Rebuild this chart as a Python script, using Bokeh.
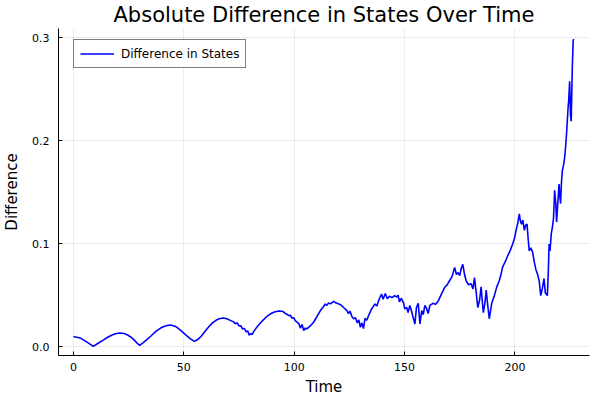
from bokeh.plotting import figure
from bokeh.models import Range1d, FixedTicker, PrintfTickFormatter, Legend, LegendItem
from bokeh.embed import file_html
from bokeh.resources import INLINE

# Time samples
time = [
    0, 3, 6, 9, 11, 13.5, 15.5, 17.3, 19, 21, 23, 24.8, 26.5, 27.8, 29, 30, 31.5, 33, 35, 37.5,
    39.5, 41.3, 43, 44.3, 46, 47.3, 49, 51, 53, 54.8, 56.3, 57.8, 59.5, 61.6, 63, 64.6, 66, 67.9, 69.5, 71.3,
    72.5, 73.2, 74.3, 75, 75.8, 76.6, 77.4, 78.2, 79, 79.6, 80.3, 81, 81.8, 83.5, 85.6, 87.5, 89.3, 91, 93.1, 95,
    95.8, 96.8, 97.6, 98.3, 99, 99.8,
    100.5, 101.4, 102.1, 102.8, 103.6, 104.3, 105.0, 105.4, 106.2, 107.5, 108.8, 110.3, 111.9, 113, 114.1,
    114.8, 115.6, 116.4, 117.9, 118.8, 120, 121.2, 122.4, 123.9, 124.6, 125.3, 126.2, 126.9, 127.8, 128.6,
    129.3, 130.0, 130.7, 131.4, 132.1, 132.9, 133.7, 135.1, 136.6, 137.5, 138.5, 139.6, 140.3, 141.3, 142.2,
    143.2, 144.3, 145.5, 146.5, 147.1, 147.7, 148.6, 149.6,
    150.1, 151, 151.6, 152.4, 153, 153.7, 154.7, 155.4, 156.2, 157, 157.8, 158.5, 159.2, 160, 160.7, 161.5,
    162.9, 164, 165.2, 166.5, 168.2, 169.3, 170.4, 171.5, 172.7, 173.5, 174.3, 175, 175.7, 176.4, 177.2, 177.9,
    179, 180.2, 181, 181.7, 182.5, 183.2, 184, 184.7, 185.2, 185.7, 186.4, 187, 187.7, 188.4, 189.5,
    190.7, 191.8, 192.9, 193.7, 194.4, 195.5, 196.7, 197.8, 199, 199.8, 200.5, 201.3, 202, 202.5, 203, 203.6,
    204.3, 204.9, 205.5, 206, 206.5, 207.2, 208, 208.8, 209.5, 210.3, 211, 211.7, 212.4, 213.2, 213.8, 214.3,
    214.7, 215.1, 215.5, 215.9, 216.5, 217, 217.5, 218, 218.5, 218.9, 219.3, 220, 220.4, 220.7, 221.1, 221.5,
    222.2, 222.6, 223, 223.4, 224, 224.4, 224.8, 225.2, 225.5, 226, 226.4, 226.6,
]

# Absolute difference values
difference = [
    0.0097, 0.0084, 0.0046, 0.0002, 0.0030, 0.0062, 0.0090, 0.0110, 0.0125, 0.0132, 0.0127, 0.0110, 0.0084,
    0.0058, 0.0030, 0.0012, 0.0035, 0.0062, 0.0100, 0.0150,
    0.0180, 0.0198, 0.0207, 0.0208, 0.0198, 0.0180, 0.0150, 0.0112, 0.0075, 0.0050, 0.0068, 0.0098, 0.0145,
    0.0200, 0.0230, 0.0255, 0.0270, 0.0277, 0.0270, 0.0252,
    0.0240, 0.0225, 0.0228, 0.0200, 0.0203, 0.0172, 0.0176, 0.0145, 0.0150, 0.0112, 0.0125, 0.0118, 0.0150,
    0.0200, 0.0250, 0.0290, 0.0318, 0.0335, 0.0345, 0.0340,
    0.0325, 0.0312, 0.0300, 0.0305, 0.0275, 0.0280,
    0.0252, 0.0236, 0.0223, 0.0180, 0.0216, 0.0155, 0.0180, 0.0170, 0.0180, 0.0205, 0.0236, 0.0290, 0.0350,
    0.0380, 0.0414,
    0.0400, 0.0425, 0.0415, 0.0440, 0.0425, 0.0415, 0.0405, 0.0380, 0.0350, 0.0320, 0.0345, 0.0290, 0.0270,
    0.0280, 0.0230,
    0.0260, 0.0188, 0.0230, 0.0175, 0.0275, 0.0255, 0.0300, 0.0366, 0.0414, 0.0395, 0.0460, 0.0510, 0.0460,
    0.0515, 0.0465,
    0.0490, 0.0475, 0.0495, 0.0480, 0.0500, 0.0435, 0.0470, 0.0420,
    0.0366, 0.0380, 0.0330, 0.0400, 0.0360, 0.0300, 0.0220, 0.0380, 0.0420, 0.0220, 0.0350, 0.0310, 0.0400,
    0.0370, 0.0320, 0.0400,
    0.0420, 0.0410, 0.0440, 0.0500, 0.0576, 0.0600, 0.0640, 0.0680, 0.0770, 0.0700, 0.0720, 0.0690, 0.0760,
    0.0800, 0.0700, 0.0640,
    0.0600, 0.0610, 0.0560, 0.0670, 0.0520, 0.0380, 0.0450, 0.0580, 0.0450, 0.0330, 0.0420, 0.0550, 0.0400,
    0.0270, 0.0420,
    0.0495, 0.0580, 0.0640, 0.0700, 0.0770, 0.0820, 0.0880, 0.0930, 0.0997, 0.1050, 0.1126, 0.1200, 0.1290,
    0.1220, 0.1190, 0.1230,
    0.1130, 0.1180, 0.1190, 0.1050, 0.0930, 0.0960, 0.0920, 0.0820, 0.0750, 0.0700, 0.0640, 0.0495, 0.0560,
    0.0660, 0.0520, 0.0510,
    0.0495, 0.0700, 0.0997, 0.0930, 0.1100, 0.1160, 0.1250, 0.1520, 0.1400, 0.1210, 0.1350, 0.1580, 0.1450,
    0.1390, 0.1600, 0.1710,
    0.1780, 0.1850, 0.1950, 0.2070, 0.2290, 0.2400, 0.2580, 0.2250, 0.2190, 0.2700, 0.2970, 0.2990,
]

n = min(len(time), len(difference))
time = time[:n]
difference = difference[:n]

x_ticks = [0, 50, 100, 150, 200]
y_ticks = [0.0, 0.1, 0.2, 0.3]

FONT = "DejaVu Sans"

p = figure(
    width=600, height=400,
    output_backend="svg", toolbar_location=None,
    x_range=Range1d(-6.76, 233.8), y_range=Range1d(-0.0087, 0.3092),
    min_border_left=55, min_border_right=11, min_border_top=28, min_border_bottom=45,
    title="Absolute Difference in States Over Time",
)

p.title.align = "center"
p.title.vertical_align = "top"
p.title.text_font = FONT
p.title.text_font_size = "21px"
p.title.text_font_style = "normal"
p.title.text_color = "black"
p.title.standoff = 0

p.outline_line_color = None
p.background_fill_color = "white"
p.border_fill_color = "white"

for ax in (p.xaxis[0], p.yaxis[0]):
    ax.axis_line_color = "black"
    ax.axis_line_width = 1
    ax.major_tick_in = 4
    ax.major_tick_out = 0
    ax.major_tick_line_color = "black"
    ax.minor_tick_line_color = None
    ax.major_label_text_font = FONT
    ax.major_label_text_font_size = "11px"
    ax.major_label_text_color = "black"
    ax.axis_label_text_font = FONT
    ax.axis_label_text_font_size = "15px"
    ax.axis_label_text_font_style = "normal"
    ax.axis_label_text_color = "black"

p.xaxis.major_label_standoff = 7
p.xaxis.axis_label_standoff = 4
p.yaxis.major_label_standoff = 9
p.yaxis.axis_label_standoff = 8

p.xaxis.ticker = FixedTicker(ticks=x_ticks)
p.yaxis.ticker = FixedTicker(ticks=y_ticks)
p.yaxis.formatter = PrintfTickFormatter(format="%.1f")
p.xaxis.axis_label = "Time"
p.yaxis.axis_label = "Difference"

p.grid.grid_line_color = "black"
p.grid.grid_line_alpha = 0.07
p.grid.grid_line_width = 1

r = p.line(time, difference, line_color="#0000ff", line_width=1.6)

legend = Legend(
    items=[LegendItem(label="Difference in States", renderers=[r])],
    location=(15, 287),
    margin=0,
    padding=6,
    spacing=0,
    glyph_width=34,
    glyph_height=15,
    label_height=15,
    label_standoff=7,
    label_text_font=FONT,
    label_text_font_size="12px",
    label_text_color="black",
    border_line_color="black",
    border_line_width=1,
    background_fill_color="white",
    background_fill_alpha=1.0,
)
p.add_layout(legend)

open("out.html", "w").write(file_html(p, INLINE))
